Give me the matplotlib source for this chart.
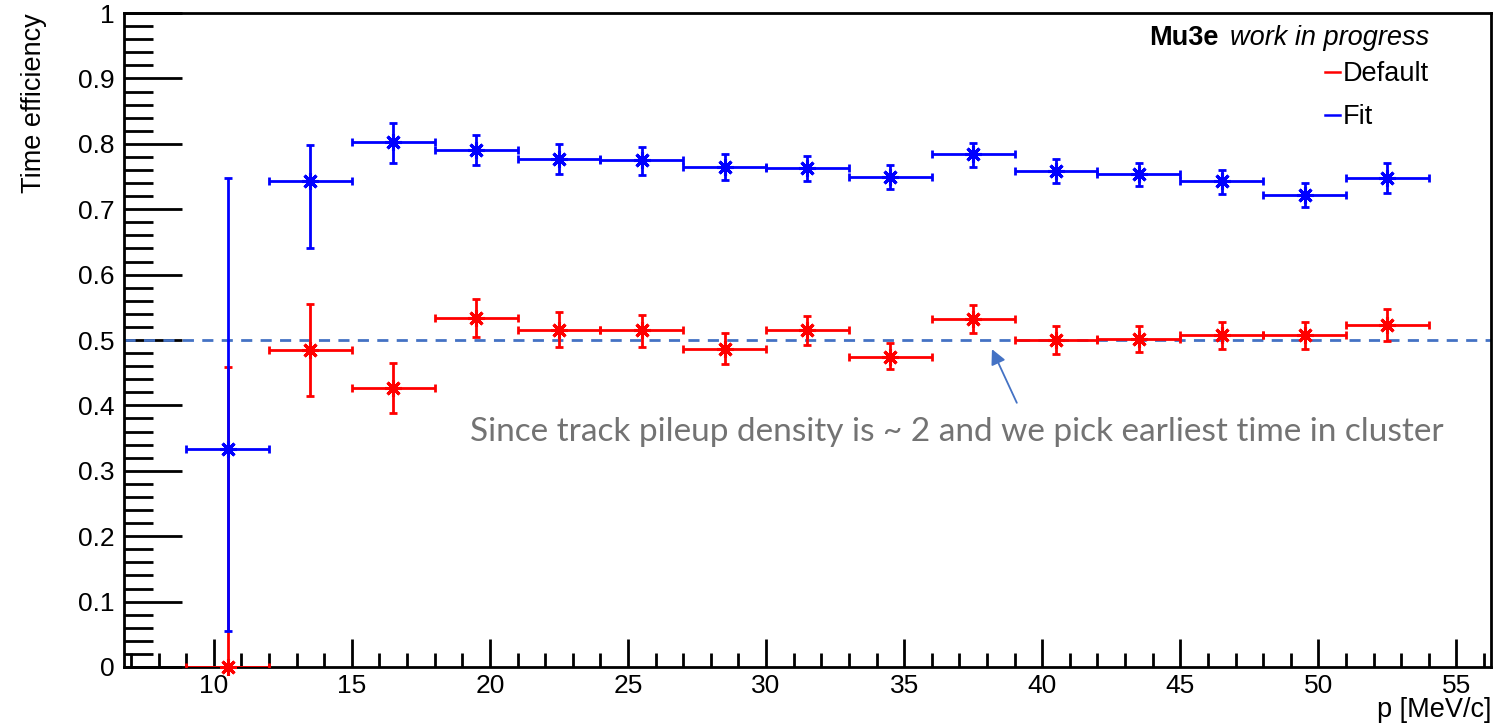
import numpy as np
import matplotlib
matplotlib.use("Agg")
import matplotlib.pyplot as plt
from matplotlib.lines import Line2D
from matplotlib.ticker import MultipleLocator

plt.rcParams["font.family"] = ["Liberation Sans", "DejaVu Sans"]

# bin centres in p [MeV/c], 3 MeV/c wide bins
p = [10.5, 13.5, 16.5, 19.5, 22.5, 25.5, 28.5, 31.5, 34.5, 37.5, 40.5, 43.5, 46.5, 49.5, 52.5]
p_half_width = 1.5

fit_eff = [0.333, 0.743, 0.803, 0.790, 0.777, 0.775, 0.765, 0.763, 0.750, 0.784, 0.759, 0.754, 0.743, 0.722, 0.748]
fit_up = [0.748, 0.798, 0.832, 0.813, 0.799, 0.795, 0.785, 0.781, 0.768, 0.801, 0.777, 0.771, 0.760, 0.740, 0.770]
fit_lo = [0.055, 0.640, 0.771, 0.767, 0.754, 0.753, 0.745, 0.743, 0.731, 0.765, 0.740, 0.736, 0.724, 0.704, 0.725]

def_eff = [0.000, 0.485, 0.427, 0.534, 0.516, 0.515, 0.487, 0.515, 0.474, 0.532, 0.500, 0.502, 0.507, 0.507, 0.523]
def_up = [0.459, 0.555, 0.465, 0.563, 0.543, 0.539, 0.511, 0.537, 0.495, 0.553, 0.521, 0.521, 0.528, 0.527, 0.547]
def_lo = [0.000, 0.415, 0.388, 0.505, 0.489, 0.490, 0.464, 0.492, 0.455, 0.510, 0.479, 0.482, 0.486, 0.487, 0.498]

ref_level = 0.5
note = "Since track pileup density is ~ 2 and we pick earliest time in cluster"


def draw_series(ax, eff, lo, up, color):
    eff = np.array(eff)
    yerr = [eff - np.array(lo), np.array(up) - eff]
    ax.errorbar(p, eff, xerr=p_half_width, yerr=yerr, fmt="none", ecolor=color,
                elinewidth=2, capsize=3, capthick=2, zorder=3)
    ax.plot(p, eff, linestyle="none", marker=(8, 2, 0), markersize=12,
            markeredgewidth=2.2, color=color, zorder=4, clip_on=False)


fig = plt.figure(figsize=(14.98, 7.25), dpi=100)
ax = fig.add_axes([0.0828, 0.08, 0.9125, 0.902])

ax.axhline(ref_level, color="#4472C4", linestyle=(0, (4, 3)), linewidth=2, zorder=2)

draw_series(ax, def_eff, def_lo, def_up, "#ff0000")
draw_series(ax, fit_eff, fit_lo, fit_up, "#0000ff")

ax.set_xlim(6.75, 56.25)
ax.set_ylim(0, 1)

ax.xaxis.set_major_locator(MultipleLocator(5))
ax.xaxis.set_minor_locator(MultipleLocator(1))
ax.yaxis.set_minor_locator(MultipleLocator(0.02))
ax.tick_params(axis="both", which="both", direction="in", width=2, labelsize=19)
ax.tick_params(axis="x", which="major", length=20, pad=5)
ax.tick_params(axis="x", which="minor", length=10)
ax.tick_params(axis="y", which="major", length=42, pad=7)
ax.tick_params(axis="y", which="minor", length=21)
ax.set_yticks(np.arange(0, 1.01, 0.1))
ax.set_yticklabels(["0", "0.1", "0.2", "0.3", "0.4", "0.5", "0.6", "0.7", "0.8", "0.9", "1"])
for s in ax.spines.values():
    s.set_linewidth(2)

ax.set_ylabel("Time efficiency", fontsize=19.5, loc="top", labelpad=22)
ax.set_xlabel("p [MeV/c]", fontsize=19.5, loc="right")
ax.xaxis.set_label_coords(1.0, -0.046)
ax.xaxis.label.set_va("top")

# experiment label
ax.text(0.955, 0.962, "work in progress", transform=ax.transAxes, fontsize=19.5,
        style="italic", ha="right", va="center")
ax.text(0.801, 0.962, "Mu3e", transform=ax.transAxes, fontsize=19.5,
        fontweight="bold", ha="right", va="center")

handles = [Line2D([], [], color="#ff0000", linewidth=1.8),
           Line2D([], [], color="#0000ff", linewidth=1.8)]
ax.legend(handles, ["Default", "Fit"], loc="upper left", bbox_to_anchor=(0.8786, 0.926),
          frameon=False, fontsize=19.5, handlelength=0.55, handletextpad=0.12,
          labelspacing=0.62, borderpad=0, borderaxespad=0)

ax.annotate("", xy=(38.18, 0.486), xytext=(39.08, 0.404),
            arrowprops=dict(arrowstyle="-|>,head_length=0.9,head_width=0.45",
                            color="#4472C4", linewidth=1.3, shrinkA=0, shrinkB=0))
ax.text(36.9, 0.359, note, fontsize=24, color="#737373", family=["Lato", "DejaVu Sans"],
        ha="center", va="center")

fig.savefig("out.png", dpi=100)
